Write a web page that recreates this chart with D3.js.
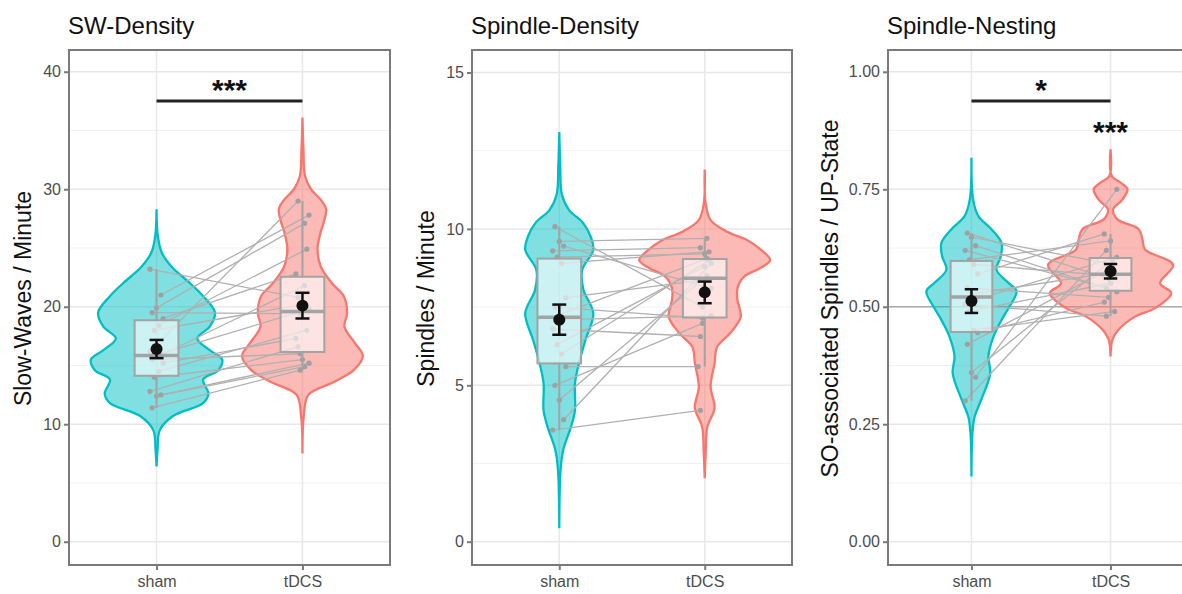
<!DOCTYPE html>
<html>
<head>
<meta charset="utf-8">
<script src="https://cdn.jsdelivr.net/npm/d3@7"></script>
<style>
body { margin: 0; background: #fff; }
text { font-family: "Liberation Sans", Arial, sans-serif; }
</style>
</head>
<body>
<script>
// groups on the x axis
var groups = ["sham", "tDCS"];

// SW-Density: slow waves per minute, one value per subject (same order in both)
var swSham = [23.2, 21.0, 19.9, 19.5, 19.0, 18.4, 18.0, 16.2, 16.0, 15.7, 15.5, 15.2, 14.5, 14.0, 12.8, 12.5, 12.4, 11.4];
var swTdcs = [20.8, 27.8, 27.1, 19.4, 22.8, 24.9, 20.2, 29.0, 19.8, 21.8, 16.0, 17.3, 18.0, 15.5, 16.6, 15.2, 14.9, 14.6];

// Spindle-Density: spindles per minute
var spSham = [3.57, 3.9, 4.53, 5.0, 5.6, 6.0, 6.3, 6.8, 7.1, 7.25, 7.5, 7.8, 8.9, 9.1, 9.3, 9.45, 9.6, 10.07];
var spTdcs = [4.2, 8.9, 8.5, 6.98, 5.6, 9.0, 8.8, 6.56, 7.22, 9.05, 7.15, 8.35, 9.27, 9.2, 9.4, 8.1, 9.7, 7.5];

// Spindle-Nesting: share of spindles in SO up-states
var nsSham = [0.30, 0.35, 0.36, 0.42, 0.445, 0.45, 0.49, 0.505, 0.515, 0.527, 0.54, 0.57, 0.59, 0.60, 0.62, 0.63, 0.648, 0.657];
var nsTdcs = [0.62, 0.75, 0.60, 0.58, 0.51, 0.49, 0.55, 0.48, 0.605, 0.573, 0.52, 0.655, 0.565, 0.64, 0.54, 0.532, 0.59, 0.56];

// violin outlines: [value, relative half width]
var swShamViolin = [[28.3,0],[26.0,0.02],[24.6,0.08],[23.4,0.23],[22.0,0.51],[20.9,0.71],[19.5,0.89],[18.3,0.81],[17.3,0.62],
  [16.3,0.81],[15.5,1.0],[14.6,0.94],[13.8,0.71],[12.6,0.79],[11.8,0.71],[10.7,0.25],[9.5,0.05],[7.8,0.015],[6.4,0]];
var swTdcsViolin = [[36.1,0],[33.4,0.015],[31.1,0.04],[30.0,0.13],[29.1,0.28],[28.3,0.36],[27.3,0.33],[26.2,0.27],[24.9,0.23],
  [23.4,0.28],[22.0,0.45],[20.9,0.63],[19.5,0.68],[18.3,0.64],[16.9,0.80],[15.8,0.92],[14.6,0.78],[13.6,0.48],[12.5,0.09],[10.7,0.02],[7.5,0]];
var spShamViolin = [[13.1,0],[12.0,0.015],[11.1,0.04],[10.6,0.15],[10.2,0.36],[9.75,0.48],[9.33,0.52],[8.69,0.35],[8.05,0.37],
  [7.3,0.52],[6.45,0.40],[5.7,0.30],[5.06,0.24],[4.2,0.24],[3.68,0.18],[2.93,0.06],[2.3,0.02],[0.43,0]];
var spTdcsViolin = [[11.9,0],[10.8,0.015],[10.28,0.09],[9.9,0.35],[9.64,0.65],[9.3,0.88],[9.0,1.0],[8.75,0.85],[8.47,0.6],
  [8.1,0.5],[7.73,0.5],[7.19,0.55],[6.67,0.39],[6.23,0.19],[5.7,0.15],[4.96,0.09],[4.27,0.15],[3.68,0.04],[2.83,0.015],[2.03,0]];
var nsShamViolin = [[0.817,0],[0.728,0.027],[0.693,0.11],[0.665,0.32],[0.636,0.48],[0.608,0.47],[0.579,0.40],[0.551,0.59],
  [0.533,0.72],[0.501,0.61],[0.479,0.51],[0.436,0.35],[0.394,0.27],[0.359,0.30],[0.30,0.15],[0.266,0.05],[0.23,0.015],[0.139,0]];
var nsTdcsViolin = [[0.835,0],[0.778,0.02],[0.764,0.16],[0.75,0.27],[0.728,0.19],[0.707,0.04],[0.686,0.11],[0.665,0.45],
  [0.643,0.51],[0.622,0.55],[0.589,1.0],[0.55,0.79],[0.529,0.97],[0.497,0.71],[0.479,0.39],[0.45,0.12],[0.43,0.03],[0.394,0]];

// y axis ticks
var swTicks = [0, 10, 20, 30, 40], swMinor = [5, 15, 25, 35];
var spTicks = [0, 5, 10, 15], spMinor = [2.5, 7.5, 12.5];
var nsTicks = [0, 0.25, 0.5, 0.75, 1.0], nsMinor = [0.125, 0.375, 0.625, 0.875];

// significance: [bar value, label]; nsStar sits above tDCS alone
var swSig = [37.5, "***"];
var nsSig = [0.938, "*"];
var nsStar = [0.851, "***"];
var nsChance = 0.5;

var colors = {sham: "#00BFC4", tDCS: "#F8766D"};
var plotTop = 50, plotBottom = 565;

var svg = d3.select("body").append("svg")
    .attr("width", 1182)
    .attr("height", 594);

var panels = [
  {title: "SW-Density", ytitle: "Slow-Waves / Minute", left: 69, right: 390, titleX: 31,
   domain: [-1.98, 41.85], ticks: swTicks, minor: swMinor, fmt: d3.format("d"),
   sham: swSham, tdcs: swTdcs, violins: [swShamViolin, swTdcsViolin], sig: swSig},
  {title: "Spindle-Density", ytitle: "Spindles / Minute", left: 472, right: 792, titleX: 434,
   domain: [-0.745, 15.72], ticks: spTicks, minor: spMinor, fmt: d3.format("d"),
   sham: spSham, tdcs: spTdcs, violins: [spShamViolin, spTdcsViolin]},
  {title: "Spindle-Nesting", ytitle: "SO-associated Spindles / UP-State", left: 888, right: 1194, titleX: 838,
   domain: [-0.0496, 1.0464], ticks: nsTicks, minor: nsMinor, fmt: d3.format(".2f"),
   sham: nsSham, tdcs: nsTdcs, violins: [nsShamViolin, nsTdcsViolin], sig: nsSig, star: nsStar, hline: nsChance}
];

panels.forEach(drawPanel);

function drawPanel(p) {
    var x = d3.scalePoint().domain(groups).range([p.left, p.right]).padding(0.6);
    var y = d3.scaleLinear().domain(p.domain).range([plotBottom, plotTop]);
    var step = x.step();
    var g = svg.append("g");

    // grid
    g.selectAll(".minor").data(p.minor).enter().append("line")
        .attr("x1", p.left).attr("x2", p.right)
        .attr("y1", function(d){ return y(d); }).attr("y2", function(d){ return y(d); })
        .attr("stroke", "#f2f2f2").attr("stroke-width", 1);
    g.selectAll(".major").data(p.ticks).enter().append("line")
        .attr("x1", p.left).attr("x2", p.right)
        .attr("y1", function(d){ return y(d); }).attr("y2", function(d){ return y(d); })
        .attr("stroke", "#e8e8e8").attr("stroke-width", 1.5);
    g.selectAll(".vmajor").data(groups).enter().append("line")
        .attr("x1", function(d){ return x(d); }).attr("x2", function(d){ return x(d); })
        .attr("y1", plotTop).attr("y2", plotBottom)
        .attr("stroke", "#e8e8e8").attr("stroke-width", 1.5);

    if (p.hline !== undefined) {
        g.append("line")
            .attr("x1", p.left).attr("x2", p.right)
            .attr("y1", y(p.hline)).attr("y2", y(p.hline))
            .attr("stroke", "#ababab").attr("stroke-width", 1.5);
    }

    // violins
    groups.forEach(function(grp, gi){
        var cx = x(grp);
        var area = d3.area()
            .curve(d3.curveCatmullRom.alpha(0.5))
            .y(function(d){ return y(d[0]); })
            .x0(function(d){ return cx - Math.max(0, d[1]) * 0.45 * step; })
            .x1(function(d){ return cx + Math.max(0, d[1]) * 0.45 * step; });
        g.append("path")
            .datum(p.violins[gi])
            .attr("d", area)
            .attr("fill", colors[grp]).attr("fill-opacity", 0.5)
            .attr("stroke", colors[grp]).attr("stroke-width", 2.3);
    });

    // paired subject lines and points
    function jit(i){ return ((i * 5) % 7 - 3) * 0.015 * step; }
    var pairs = p.sham.map(function(v, i){ return {i: i, a: v, b: p.tdcs[i]}; });
    g.selectAll(".pair").data(pairs).enter().append("line")
        .attr("x1", function(d){ return x("sham") + jit(d.i); })
        .attr("x2", function(d){ return x("tDCS") + jit(d.i + 3); })
        .attr("y1", function(d){ return y(d.a); })
        .attr("y2", function(d){ return y(d.b); })
        .attr("stroke", "#b0b0b0").attr("stroke-width", 1.3);
    g.selectAll(".pa").data(pairs).enter().append("circle")
        .attr("cx", function(d){ return x("sham") + jit(d.i); })
        .attr("cy", function(d){ return y(d.a); })
        .attr("r", 2.6).attr("fill", "#a0a0a0");
    g.selectAll(".pb").data(pairs).enter().append("circle")
        .attr("cx", function(d){ return x("tDCS") + jit(d.i + 3); })
        .attr("cy", function(d){ return y(d.b); })
        .attr("r", 2.6).attr("fill", "#a0a0a0");

    // boxplots, whiskers to the last value inside 1.5 IQR
    [p.sham, p.tdcs].forEach(function(vals, gi){
        var s = vals.slice().sort(d3.ascending);
        var q1 = d3.quantile(s, 0.25), med = d3.quantile(s, 0.5), q3 = d3.quantile(s, 0.75);
        var iqr = q3 - q1;
        var hi = d3.max(s.filter(function(v){ return v <= q3 + 1.5 * iqr; }));
        var lo = d3.min(s.filter(function(v){ return v >= q1 - 1.5 * iqr; }));
        var cx = x(groups[gi]), bw = 0.15 * step;
        g.append("line").attr("x1", cx).attr("x2", cx)
            .attr("y1", y(hi)).attr("y2", y(q3))
            .attr("stroke", "#a3a3a3").attr("stroke-width", 2);
        g.append("line").attr("x1", cx).attr("x2", cx)
            .attr("y1", y(q1)).attr("y2", y(lo))
            .attr("stroke", "#a3a3a3").attr("stroke-width", 2);
        g.append("rect")
            .attr("x", cx - bw).attr("width", 2 * bw)
            .attr("y", y(q3)).attr("height", y(q1) - y(q3))
            .attr("fill", "#fff").attr("fill-opacity", 0.6)
            .attr("stroke", "#a3a3a3").attr("stroke-width", 2);
        g.append("line").attr("x1", cx - bw).attr("x2", cx + bw)
            .attr("y1", y(med)).attr("y2", y(med))
            .attr("stroke", "#a3a3a3").attr("stroke-width", 3.5);

        // mean +- standard error
        var m = d3.mean(vals), se = d3.deviation(vals) / Math.sqrt(vals.length);
        var cw = 0.048 * step;
        g.append("line").attr("x1", cx).attr("x2", cx)
            .attr("y1", y(m + se)).attr("y2", y(m - se))
            .attr("stroke", "#111").attr("stroke-width", 2.5);
        [m + se, m - se].forEach(function(v){
            g.append("line").attr("x1", cx - cw).attr("x2", cx + cw)
                .attr("y1", y(v)).attr("y2", y(v))
                .attr("stroke", "#111").attr("stroke-width", 2.5);
        });
        g.append("circle").attr("cx", cx).attr("cy", y(m)).attr("r", 6).attr("fill", "#111");
    });

    // significance marks
    if (p.sig) {
        g.append("line")
            .attr("x1", x("sham")).attr("x2", x("tDCS"))
            .attr("y1", y(p.sig[0])).attr("y2", y(p.sig[0]))
            .attr("stroke", "#222").attr("stroke-width", 3);
        g.append("text")
            .attr("x", (x("sham") + x("tDCS")) / 2).attr("y", y(p.sig[0]) - 1)
            .attr("text-anchor", "middle").attr("font-size", 30).attr("font-weight", "bold").attr("fill", "#111")
            .text(p.sig[1]);
    }
    if (p.star) {
        g.append("text")
            .attr("x", x("tDCS")).attr("y", y(p.star[0]))
            .attr("text-anchor", "middle").attr("font-size", 30).attr("font-weight", "bold").attr("fill", "#111")
            .text(p.star[1]);
    }

    // panel border
    g.append("rect")
        .attr("x", p.left).attr("y", plotTop)
        .attr("width", p.right - p.left).attr("height", plotBottom - plotTop)
        .attr("fill", "none").attr("stroke", "#7a7a7a").attr("stroke-width", 2);

    // axes
    var yAxis = d3.axisLeft(y).tickValues(p.ticks).tickFormat(p.fmt).tickSize(5).tickPadding(3);
    var ya = g.append("g").attr("transform", "translate(" + p.left + ",0)").call(yAxis);
    var xAxis = d3.axisBottom(x).tickSize(5).tickPadding(6);
    var xa = g.append("g").attr("transform", "translate(0," + plotBottom + ")").call(xAxis);
    [ya, xa].forEach(function(a){
        a.select(".domain").remove();
        a.selectAll(".tick line").attr("stroke", "#7a7a7a").attr("stroke-width", 2);
        a.selectAll(".tick text").attr("font-size", 16).attr("fill", "#4d4d4d")
            .attr("font-family", "Liberation Sans, Arial, sans-serif");
    });

    // titles
    g.append("text")
        .attr("x", p.left - 1).attr("y", 34)
        .attr("font-size", 24).attr("fill", "#111")
        .text(p.title);
    g.append("text")
        .attr("transform", "translate(" + p.titleX + "," + ((plotTop + plotBottom) / 2 - 9) + ") rotate(-90)")
        .attr("text-anchor", "middle").attr("font-size", 23).attr("fill", "#111")
        .text(p.ytitle);
}
</script>
</body>
</html>
